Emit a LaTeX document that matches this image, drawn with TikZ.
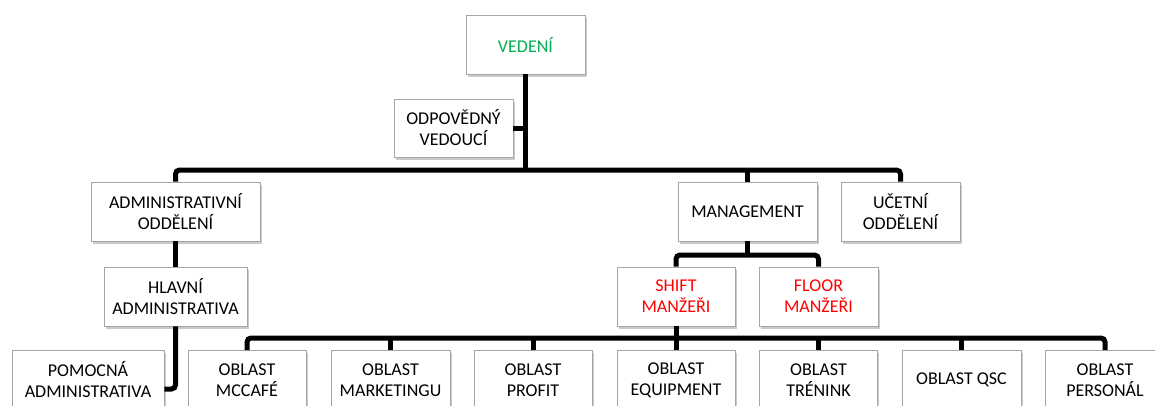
\documentclass[tikz,border=0pt]{standalone}
\usepackage{fontspec}
\setmainfont{Carlito}
\usetikzlibrary{shadows}
\definecolor{boxline}{HTML}{A6A6A6}
\definecolor{offgreen}{HTML}{00B050}
\definecolor{offred}{HTML}{FF0000}
\tikzset{
  box/.style={draw=boxline, line width=0.9pt, fill=white, inner sep=0pt,
    align=center, font=\fontsize{18}{21}\selectfont,
    drop shadow={shadow xshift=1.5pt, shadow yshift=-2.5pt, opacity=0.35, fill=black!60}},
  conn/.style={line width=5pt, black, rounded corners=4pt},
}
\begin{document}
\begin{tikzpicture}[x=1pt,y=-1pt]
\useasboundingbox (0,0) rectangle (1155,405);
% junction levels
\coordinate (bus1) at (0,170);
\coordinate (bus2) at (0,255);
\coordinate (bus3) at (0,338);
\node[box, minimum width=119pt, minimum height=59pt, text=offgreen] (ved) at (525.5,44.5) {VEDENÍ};
\node[box, minimum width=119pt, minimum height=58pt] (odp) at (453.5,128) {ODPOVĚDNÝ\\VEDOUCÍ};
\node[box, minimum width=169pt, minimum height=59pt] (adm) at (175.5,211.5) {ADMINISTRATIVNÍ\\ODDĚLENÍ};
\node[box, minimum width=139pt, minimum height=59pt] (mgmt) at (747.5,211.5) {MANAGEMENT};
\node[box, minimum width=119pt, minimum height=59pt] (ucet) at (900.5,211.5) {UČETNÍ\\ODDĚLENÍ};
\node[box, minimum width=143pt, minimum height=59pt] (hl) at (175.5,296.5) {HLAVNÍ\\ADMINISTRATIVA};
\node[box, minimum width=118pt, minimum height=59pt, text=offred] (shift) at (676,296.5) {SHIFT\\MANŽEŘI};
\node[box, minimum width=119pt, minimum height=59pt, text=offred] (floor) at (818.5,296.5) {FLOOR\\MANŽEŘI};
\node[box, minimum width=152pt, minimum height=59pt] (pom) at (88,380) {POMOCNÁ\\ADMINISTRATIVA};
\node[box, minimum width=118pt, minimum height=59pt] (mcc) at (247,380) {OBLAST\\MCCAFÉ};
\node[box, minimum width=119pt, minimum height=59pt] (mkt) at (390.5,380) {OBLAST\\MARKETINGU};
\node[box, minimum width=118pt, minimum height=59pt] (prof) at (533,380) {OBLAST\\PROFIT};
\node[box, minimum width=118pt, minimum height=59pt] (equip) at (676,380) {OBLAST\\EQUIPMENT};
\node[box, minimum width=118pt, minimum height=59pt] (tren) at (818.5,380) {OBLAST\\TRÉNINK};
\node[box, minimum width=119pt, minimum height=59pt] (qsc) at (961.5,380) {OBLAST QSC};
\node[box, minimum width=120pt, minimum height=59pt] (pers) at (1105,380) {OBLAST\\PERSONÁL};
% connectors
\draw[conn] (ved.south) -- (ved.south |- bus1);
\draw[conn] (odp.east) -- (odp.east -| ved.south);
\draw[conn] (adm.north) |- (bus1 -| ucet.north) -- (ucet.north);
\draw[conn] (mgmt.north) -- (mgmt.north |- bus1);
\draw[conn] (adm.south) -- (hl.north);
\draw[conn] (hl.south) |- ([yshift=-9pt]pom.east);
\draw[conn] (mgmt.south) -- (mgmt.south |- bus2);
\draw[conn] (shift.north) |- (bus2 -| floor.north) -- (floor.north);
\draw[conn] (shift.south) -- (equip.north);
\draw[conn] (mcc.north) |- (bus3 -| pers.north) -- (pers.north);
\draw[conn] (mkt.north) -- (mkt.north |- bus3);
\draw[conn] (prof.north) -- (prof.north |- bus3);
\draw[conn] (tren.north) -- (tren.north |- bus3);
\draw[conn] (qsc.north) -- (qsc.north |- bus3);
\end{tikzpicture}
\end{document}
